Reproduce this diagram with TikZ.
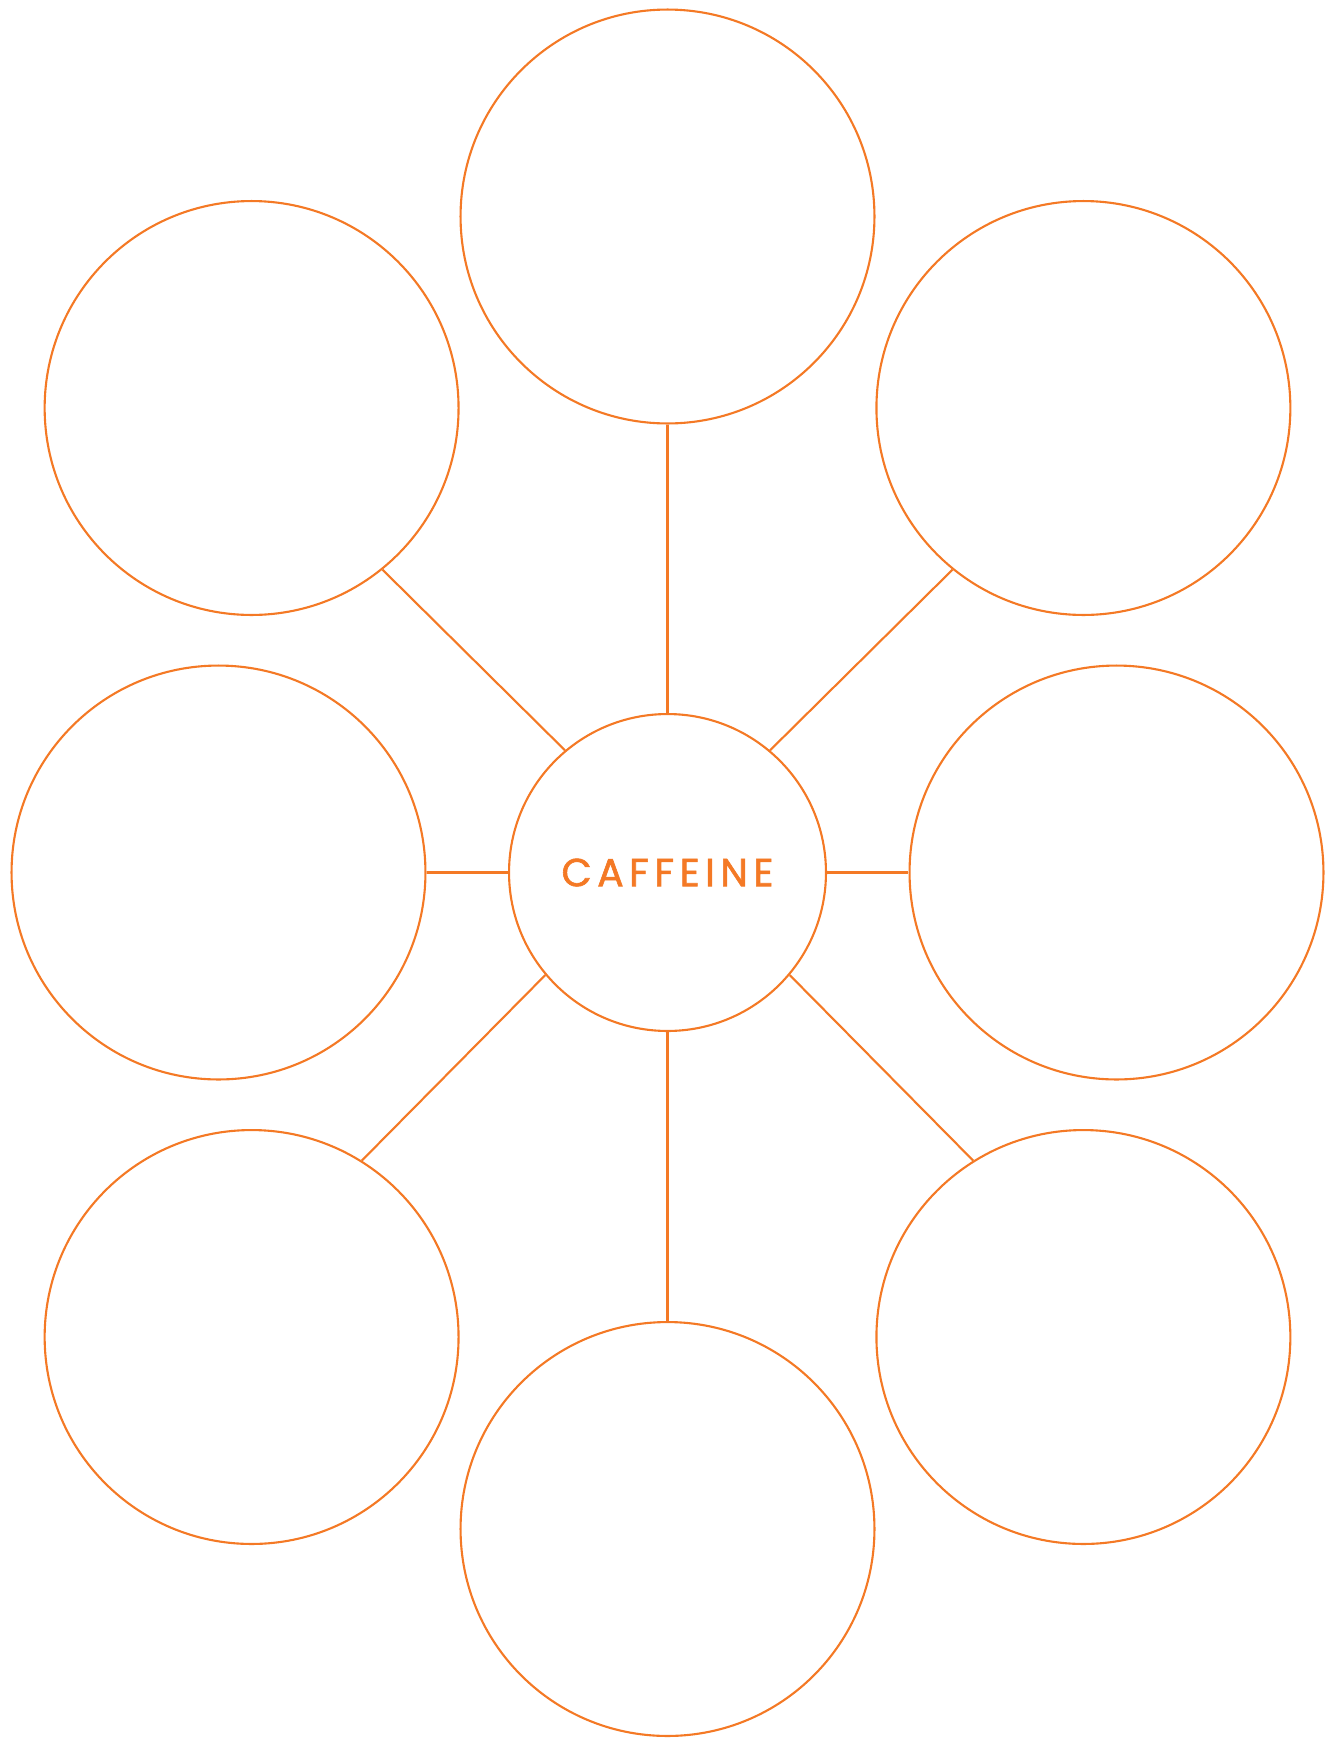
\documentclass[tikz,border=0pt]{standalone}
\usepackage{fontspec}
\setmainfont{Poppins}
\usepackage{xcolor}
\usepackage{tikz}
\definecolor{caforange}{RGB}{244,121,37}

\begin{document}
\begin{tikzpicture}[x=0.02cm,y=-0.02cm,line width=1.2pt,
  hub/.style={circle,draw=caforange,minimum size=6.34cm,inner sep=0pt,
    text=caforange,font={\fontspec{Poppins}[LetterSpace=14,FakeBold=1.6]\fontsize{22.3}{24}\selectfont}},
  bubble/.style={circle,draw=caforange,minimum size=8.28cm,inner sep=0pt},
  link/.style={draw=caforange}]
\useasboundingbox (0,0) rectangle (1330,1738);
% central topic
\node[hub] (c) at (667.5,872.5) {CAFFEINE};
% ring of empty bubbles
\node[bubble] (top) at (667.5,216.5)  {};
\node[bubble] (ul)  at (251.6,408)    {};
\node[bubble] (ur)  at (1083.4,408)   {};
\node[bubble] (ml)  at (218.5,872.5)  {};
\node[bubble] (mr)  at (1116.5,872.5) {};
\node[bubble] (ll)  at (251.6,1337)   {};
\node[bubble] (lr)  at (1083.4,1337)  {};
\node[bubble] (bot) at (667.5,1529)   {};
% spokes
\draw[link] (c.north)--(top.south); \draw[link] (c.south)--(bot.north);
\draw[link] (c.west)--(ml.east);   \draw[link] (c.east)--(mr.west);
\draw[link] (c.130)--(ul.-51);     \draw[link] (c.50)--(ur.-129);
\draw[link] (c.-140)--(ll.58);     \draw[link] (c.-40)--(lr.122);
\end{tikzpicture}
\end{document}
